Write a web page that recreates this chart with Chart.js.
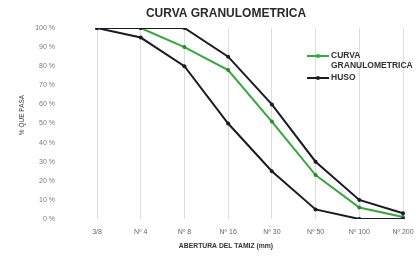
<!DOCTYPE html>
<html>
<head>
<meta charset="utf-8">
<script src="https://cdn.jsdelivr.net/npm/chart.js@4.4.1/dist/chart.umd.min.js"></script>
<style>
html,body{margin:0;padding:0;background:#fff;}
#wrap{width:416px;height:257px;position:relative;}
</style>
</head>
<body>
<div id="wrap"><canvas id="c" width="416" height="257"></canvas></div>
<script>
const categories = ['3/8', 'Nº 4', 'Nº 8', 'Nº 16', 'Nº 30', 'Nº 50', 'Nº 100', 'Nº 200'];
const curva = [100, 100, 90, 78, 51, 23, 6, 1];
const husoSuperior = [100, 100, 100, 85, 60, 30, 10, 3];
const husoInferior = [100, 95, 80, 50, 25, 5, 0, 0];
const yTicks = [0, 10, 20, 30, 40, 50, 60, 70, 80, 90, 100];
const chartTitle = 'CURVA GRANULOMETRICA';
const xTitle = 'ABERTURA DEL TAMIZ (mm)';
const yTitle = '% QUE PASA';
const legendCurva = ['CURVA', 'GRANULOMETRICA'];
const legendHuso = ['HUSO'];

const FONT = "'Liberation Sans Narrow', 'Liberation Sans', Arial, sans-serif";
const GREEN = '#35a83a';
const DARK = '#1b1b28';

const textPlugin = {
  id: 'texts',
  afterDraw(chart) {
    const ctx = chart.ctx;
    ctx.save();
    ctx.fillStyle = '#2a2a2a';
    ctx.font = 'bold 12px ' + FONT;
    ctx.textAlign = 'center';
    ctx.textBaseline = 'middle';
    ctx.fillText(chartTitle, 226, 14);
    ctx.font = 'bold 6.8px ' + FONT;
    ctx.fillStyle = '#333';
    ctx.fillText(xTitle, 226, 246);
    ctx.save();
    ctx.translate(22, 115);
    ctx.rotate(-Math.PI / 2);
    ctx.font = '6.5px ' + FONT;
    ctx.fillStyle = '#444';
    ctx.fillText(yTitle, 0, 0);
    ctx.restore();
    const items = [
      {color: GREEN, lines: legendCurva, y: 56},
      {color: DARK, lines: legendHuso, y: 78}
    ];
    items.forEach(it => {
      ctx.strokeStyle = it.color;
      ctx.lineWidth = 2;
      ctx.beginPath();
      ctx.moveTo(307, it.y);
      ctx.lineTo(329, it.y);
      ctx.stroke();
      ctx.fillStyle = it.color;
      ctx.beginPath();
      ctx.arc(318, it.y, 2, 0, Math.PI * 2);
      ctx.fill();
      ctx.fillStyle = '#333';
      ctx.font = 'bold 8.5px ' + FONT;
      ctx.textAlign = 'left';
      ctx.textBaseline = 'middle';
      it.lines.forEach((t, i) => ctx.fillText(t, 331, it.y + i * 10));
    });
    ctx.restore();
  }
};

new Chart(document.getElementById('c'), {
  type: 'line',
  data: {
    labels: categories,
    datasets: [
      {label: 'CURVA GRANULOMETRICA', data: curva, borderColor: GREEN, backgroundColor: GREEN,
       borderWidth: 2, pointRadius: 2, pointBackgroundColor: '#2a8a2e', pointBorderWidth: 0, tension: 0, order: 2},
      {label: 'HUSO', data: husoSuperior, borderColor: DARK, backgroundColor: DARK,
       borderWidth: 2, pointRadius: 2, pointBorderWidth: 0, tension: 0, order: 1},
      {label: 'HUSO', data: husoInferior, borderColor: DARK, backgroundColor: DARK,
       borderWidth: 2, pointRadius: 2, pointBorderWidth: 0, tension: 0, order: 1}
    ]
  },
  options: {
    responsive: false,
    animation: false,
    devicePixelRatio: 1,
    layout: {padding: {top: 28, right: 13, bottom: 0, left: 0}},
    plugins: {legend: {display: false}, title: {display: false}, tooltip: {enabled: false}},
    scales: {
      x: {
        offset: false,
        grid: {display: true, color: '#dcdcdc', lineWidth: 1, drawTicks: false},
        border: {display: false},
        ticks: {padding: 9, color: '#666', font: {family: FONT, size: 7}, maxRotation: 0, autoSkip: false},
        afterFit(s) { s.height = 38; s.paddingLeft = 0; s.paddingRight = 0; }
      },
      y: {
        min: 0, max: 100,
        afterBuildTicks(s) { s.ticks = yTicks.map(v => ({value: v})); },
        grid: {display: false, drawTicks: false},
        border: {display: false},
        ticks: {padding: 42, color: '#7a7a7a', font: {family: FONT, size: 7}, callback: v => v + ' %'},
        afterFit(s) { s.width = 97; s.paddingTop = 0; s.paddingBottom = 0; }
      }
    }
  },
  plugins: [textPlugin]
});
</script>
</body>
</html>
